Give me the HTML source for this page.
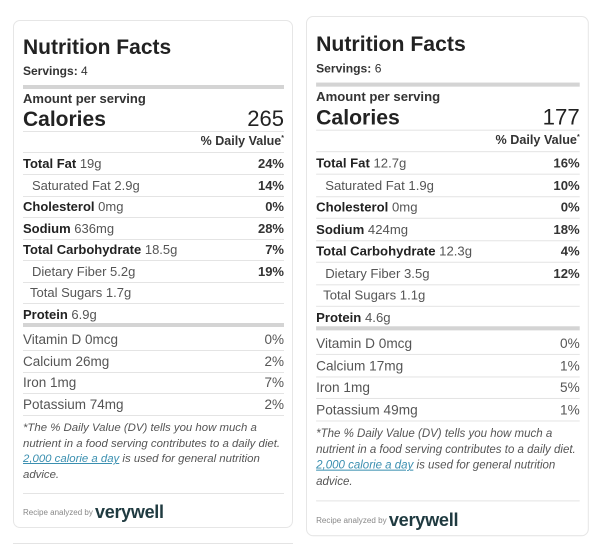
<!DOCTYPE html>
<html><head><meta charset="utf-8"><style>
body{margin:0;width:600px;height:557px;background:#fff;position:relative;overflow:hidden;font-family:"Liberation Sans",Arial,sans-serif;color:#222}
.card{position:absolute;width:280px;height:508px;border:1px solid #e6e6e6;border-radius:7px;box-sizing:border-box;background:#fff;transform-origin:0 0}
.t{position:absolute;white-space:nowrap;line-height:1}
.b{font-weight:bold}
.ln{position:absolute;left:9px;right:8px;height:1px;background:#e4e4e4}
.thick{position:absolute;left:9px;right:8px;height:4px;background:#d4d4d4}
.row{position:absolute;left:9px;right:8px;height:21px;font-size:13px;color:#444}
.row span{position:absolute;top:4px;line-height:1}
.row .v{right:0;font-weight:bold;color:#333}
.row .lbl b{color:#222}
.mn{color:#555}
.foot{position:absolute;left:9px;right:6px;font-size:11.4px;font-style:italic;line-height:15.7px;color:#555}
.foot a{color:#3a8fb0;text-decoration:underline}
</style></head><body>
<div id="root"></div>
<div style="position:absolute;left:13px;top:543px;width:280px;height:1px;background:#e4e4e4"></div>
<script>
const cards=[
 {x:13,y:20,sx:1,sy:1,serv:'4',cal:'265',
  rows:[['Total Fat','19g','24%',0],['Saturated Fat','2.9g','14%',1],['Cholesterol','0mg','0%',0],['Sodium','636mg','28%',0],['Total Carbohydrate','18.5g','7%',0],['Dietary Fiber','5.2g','19%',1],['Total Sugars','1.7g','',1],['Protein','6.9g','',0]],
  minerals:[['Vitamin D 0mcg','0%'],['Calcium 26mg','2%'],['Iron 1mg','7%'],['Potassium 74mg','2%']]},
 {x:306,y:16,sx:1.01,sy:1.024,serv:'6',cal:'177',
  rows:[['Total Fat','12.7g','16%',0],['Saturated Fat','1.9g','10%',1],['Cholesterol','0mg','0%',0],['Sodium','424mg','18%',0],['Total Carbohydrate','12.3g','4%',0],['Dietary Fiber','3.5g','12%',1],['Total Sugars','1.1g','',1],['Protein','4.6g','',0]],
  minerals:[['Vitamin D 0mcg','0%'],['Calcium 17mg','1%'],['Iron 1mg','5%'],['Potassium 49mg','1%']]}
];
const root=document.getElementById('root');
cards.forEach((c,ci)=>{
 let h=`<div class="t b" style="left:9px;top:16px;font-size:21px;color:#222">Nutrition Facts</div>
 <div class="t" style="left:9px;top:44px;font-size:12px;color:#333"><b>Servings:</b> ${c.serv}</div>
 <div class="thick" style="top:64px"></div>
 <div class="t b" style="left:9px;top:71px;font-size:13px;color:#333">Amount per serving</div>
 <div class="t b" style="left:9px;top:88px;font-size:21px;color:#222">Calories</div>
 <div class="t" style="right:8px;top:87px;font-size:22px;color:#222">${c.cal}</div>
 <div class="ln" style="top:110px"></div>
 <div class="t b" style="right:8px;top:114px;font-size:12.5px;color:#333">% Daily Value<sup style="font-size:7px">*</sup></div>
 <div class="ln" style="top:131px"></div>`;
 c.rows.forEach((r,i)=>{
  const top=132+i*21.5;
  const lbl=r[3]?`<span class="lbl mn" style="left:${i==6?7:9}px">${r[0]} ${r[1]}</span>`:`<span class="lbl"><b>${r[0]}</b> <span style="position:static" class="mn">${r[1]}</span></span>`;
  h+=`<div class="row" style="top:${top}px">${lbl}<span class="v">${r[2]}</span></div>`;
  if(i<7)h+=`<div class="ln" style="top:${top+21}px"></div>`;
 });
 h+=`<div class="thick" style="top:302px"></div>`;
 c.minerals.forEach((m,i)=>{
  const top=308+i*21.5;
  h+=`<div class="row" style="top:${top}px;font-size:13.5px"><span style="left:0;color:#555">${m[0]}</span><span style="right:0;color:#555">${m[1]}</span></div>
  <div class="ln" style="top:${top+21}px"></div>`;
 });
 h+=`<div class="foot" style="top:400px">*The % Daily Value (DV) tells you how much a nutrient in a food serving contributes to a daily diet. <a>2,000 calorie a day</a> is used for general nutrition advice.</div>
 <div class="ln" style="top:472px"></div>
 <div class="t" style="left:9px;top:482px;font-size:8px;color:#888">Recipe analyzed by <b style="font-size:18px;color:#1f3a40;letter-spacing:-0.3px;vertical-align:-3px">verywell</b></div>`;
 const d=document.createElement('div');
 d.className='card';
 
 
 d.style.left=c.x+'px';d.style.top=c.y+'px';
 d.style.transform=`scale(${c.sx},${c.sy})`;
 d.innerHTML=h;
 root.appendChild(d);
});
</script>
</body></html>
